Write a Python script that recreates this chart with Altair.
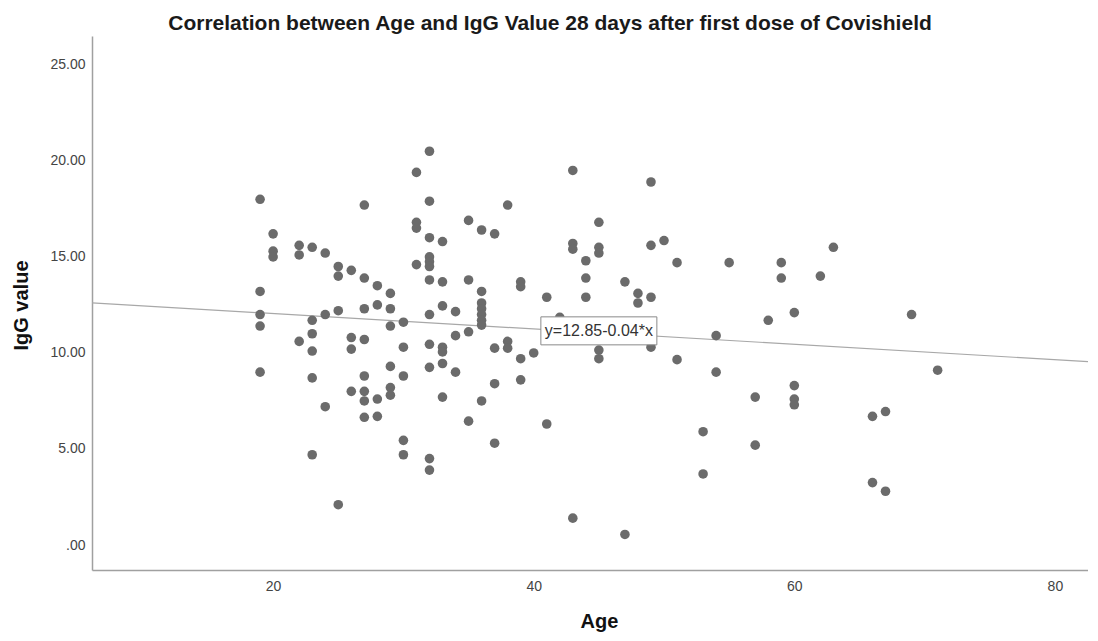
import altair as alt
import pandas as pd

# ---- data ----
age = (
    [19] * 5 + [20] * 3 + [22] * 3 + [23] * 6 + [24] * 3 + [25] * 4 + [26] * 4 +
    [27] * 8 + [28] * 4 + [29] * 6 + [30] * 5 + [31] * 4 + [32] * 12 + [33] * 7 +
    [34] * 3 + [35] * 4 + [36] * 8 + [37] * 4 + [38] * 3 + [39] * 4 + [40] * 1 +
    [41] * 2 + [42] * 1 + [43] * 4 + [44] * 3 + [45] * 5 + [47] * 2 + [48] * 2 +
    [49] * 4 + [50] * 1 + [51] * 2 + [53] * 2 + [54] * 2 + [55] * 1 + [57] * 2 +
    [58] * 1 + [59] * 2 + [60] * 4 + [62] * 1 + [63] * 1 + [66] * 2 + [67] * 2 +
    [69] * 1 + [71] * 1
)
igg = [
    18.0, 13.2, 12.0, 11.4, 9.0,            # 19
    16.2, 15.3, 15.0,                       # 20
    15.6, 15.1, 10.6,                       # 22
    15.5, 11.7, 11.0, 10.1, 8.7, 4.7,       # 23
    15.2, 12.0, 7.2,                        # 24
    14.5, 14.0, 12.2, 2.1,                  # 25
    14.3, 10.8, 10.2, 8.0,                  # 26
    17.7, 13.9, 12.3, 10.7, 8.8, 8.0, 7.5, 6.65,  # 27
    13.5, 12.5, 7.6, 6.7,                   # 28
    13.1, 12.3, 11.4, 9.3, 8.2, 7.8,        # 29
    11.6, 10.3, 8.8, 5.45, 4.7,             # 30
    19.4, 16.8, 16.5, 14.6,                 # 31
    20.5, 17.9, 16.0, 15.0, 14.75, 14.5, 13.8, 12.0, 10.45, 9.25, 4.5, 3.9,  # 32
    15.8, 13.7, 12.45, 10.3, 10.05, 9.45, 7.7,  # 33
    12.15, 10.9, 9.0,                       # 34
    16.9, 13.8, 11.1, 6.45,                 # 35
    16.4, 13.2, 12.6, 12.3, 12.0, 11.7, 11.45, 7.5,  # 36
    16.2, 10.25, 8.4, 5.3,                  # 37
    17.7, 10.6, 10.25,                      # 38
    13.7, 13.45, 9.7, 8.6,                  # 39
    10.0,                                   # 40
    12.9, 6.3,                              # 41
    11.85,                                  # 42
    19.5, 15.7, 15.4, 1.4,                  # 43
    14.8, 13.9, 12.9,                       # 44
    16.8, 15.5, 15.2, 10.15, 9.7,           # 45
    13.7, 0.55,                             # 47
    13.1, 12.6,                             # 48
    18.9, 15.6, 12.9, 10.3,                 # 49
    15.85,                                  # 50
    14.7, 9.65,                             # 51
    5.9, 3.7,                               # 53
    10.9, 9.0,                              # 54
    14.7,                                   # 55
    7.7, 5.2,                               # 57
    11.7,                                   # 58
    14.7, 13.9,                             # 59
    12.1, 8.3, 7.6, 7.3,                    # 60
    14.0,                                   # 62
    15.5,                                   # 63
    6.7, 3.25,                              # 66
    6.95, 2.8,                              # 67
    12.0,                                   # 69
    9.1,                                    # 71
]

x_ticks = [20, 40, 60, 80]
y_ticks = [0, 5, 10, 15, 20, 25]
x_domain = [6.1, 82.54]
y_domain = [-1.3, 26.5]

fit_intercept = 12.85
fit_slope = -0.04
fit_label = "y=12.85-0.04*x"
label_pos = {"Age": 45.0, "IgG": 11.15}

title_text = "Correlation between Age and IgG Value 28 days after first dose of Covishield"

FONT = "Liberation Sans"

pts = pd.DataFrame({"Age": age, "IgG": igg})
fit = pd.DataFrame({"Age": x_domain})
fit["IgG"] = fit_intercept + fit_slope * fit["Age"]
lab = pd.DataFrame({"Age": [label_pos["Age"]], "IgG": [label_pos["IgG"]], "t": [fit_label]})

xscale = alt.Scale(domain=x_domain, nice=False, zero=False)
yscale = alt.Scale(domain=y_domain, nice=False, zero=False)

xaxis = alt.Axis(
    values=x_ticks, format="d", title="Age", grid=False, ticks=False, tickSize=0,
    labelPadding=9, labelFont=FONT, labelFontSize=14, labelColor="#444444",
    titleFont=FONT, titleFontSize=20, titleFontWeight="bold", titleColor="#111111",
    titleX=507, titleY=57, titleBaseline="alphabetic", titleAlign="center",
    domainColor="#a0a0a0", domainWidth=1.5,
)
yaxis = alt.Axis(
    values=y_ticks, title="IgG value", grid=False, ticks=False, tickSize=0,
    labelExpr="datum.value === 0 ? '.00' : format(datum.value, '.2f')",
    labelPadding=7, labelFont=FONT, labelFontSize=14, labelColor="#444444",
    titleFont=FONT, titleFontSize=20, titleFontWeight="bold", titleColor="#111111",
    titleX=-71, titleY=269, titleAngle=-90, titleAlign="center", titleBaseline="middle",
    domainColor="#a0a0a0", domainWidth=1.5,
)

line = alt.Chart(fit).mark_line(color="#a8a8a8", strokeWidth=1.2, clip=True).encode(
    x=alt.X("Age:Q", scale=xscale, axis=xaxis),
    y=alt.Y("IgG:Q", scale=yscale, axis=yaxis),
)

points = alt.Chart(pts).mark_circle(size=92, color="#6b6b6b", opacity=1).encode(
    x=alt.X("Age:Q", scale=xscale),
    y=alt.Y("IgG:Q", scale=yscale),
)

box = alt.Chart(lab).mark_point(
    shape="M-1,-0.2414L1,-0.2414L1,0.2414L-1,0.2414Z",
    size=116 * 116, filled=False, fill="white", fillOpacity=1,
    stroke="#8a8a8a", strokeWidth=1, opacity=1,
).encode(
    x=alt.X("Age:Q", scale=xscale),
    y=alt.Y("IgG:Q", scale=yscale),
)

text = alt.Chart(lab).mark_text(
    font=FONT, fontSize=16, color="#333333", align="center", baseline="middle"
).encode(
    x=alt.X("Age:Q", scale=xscale),
    y=alt.Y("IgG:Q", scale=yscale),
    text="t:N",
)

chart = alt.layer(line, points, box, text).properties(
    width=996,
    height=534,
    title=alt.TitleParams(
        text=title_text, font=FONT, fontSize=21, fontWeight="bold", color="#1a1a1a",
        anchor="middle", frame="group", baseline="alphabetic", offset=9, dx=-40, dy=24,
    ),
    autosize=alt.AutoSizeParams(type="none"),
    padding={"left": 84, "top": 28, "right": 0, "bottom": 62},
).configure_view(stroke=None)

chart.save("out.html", embed_options={"renderer": "svg", "actions": False})
